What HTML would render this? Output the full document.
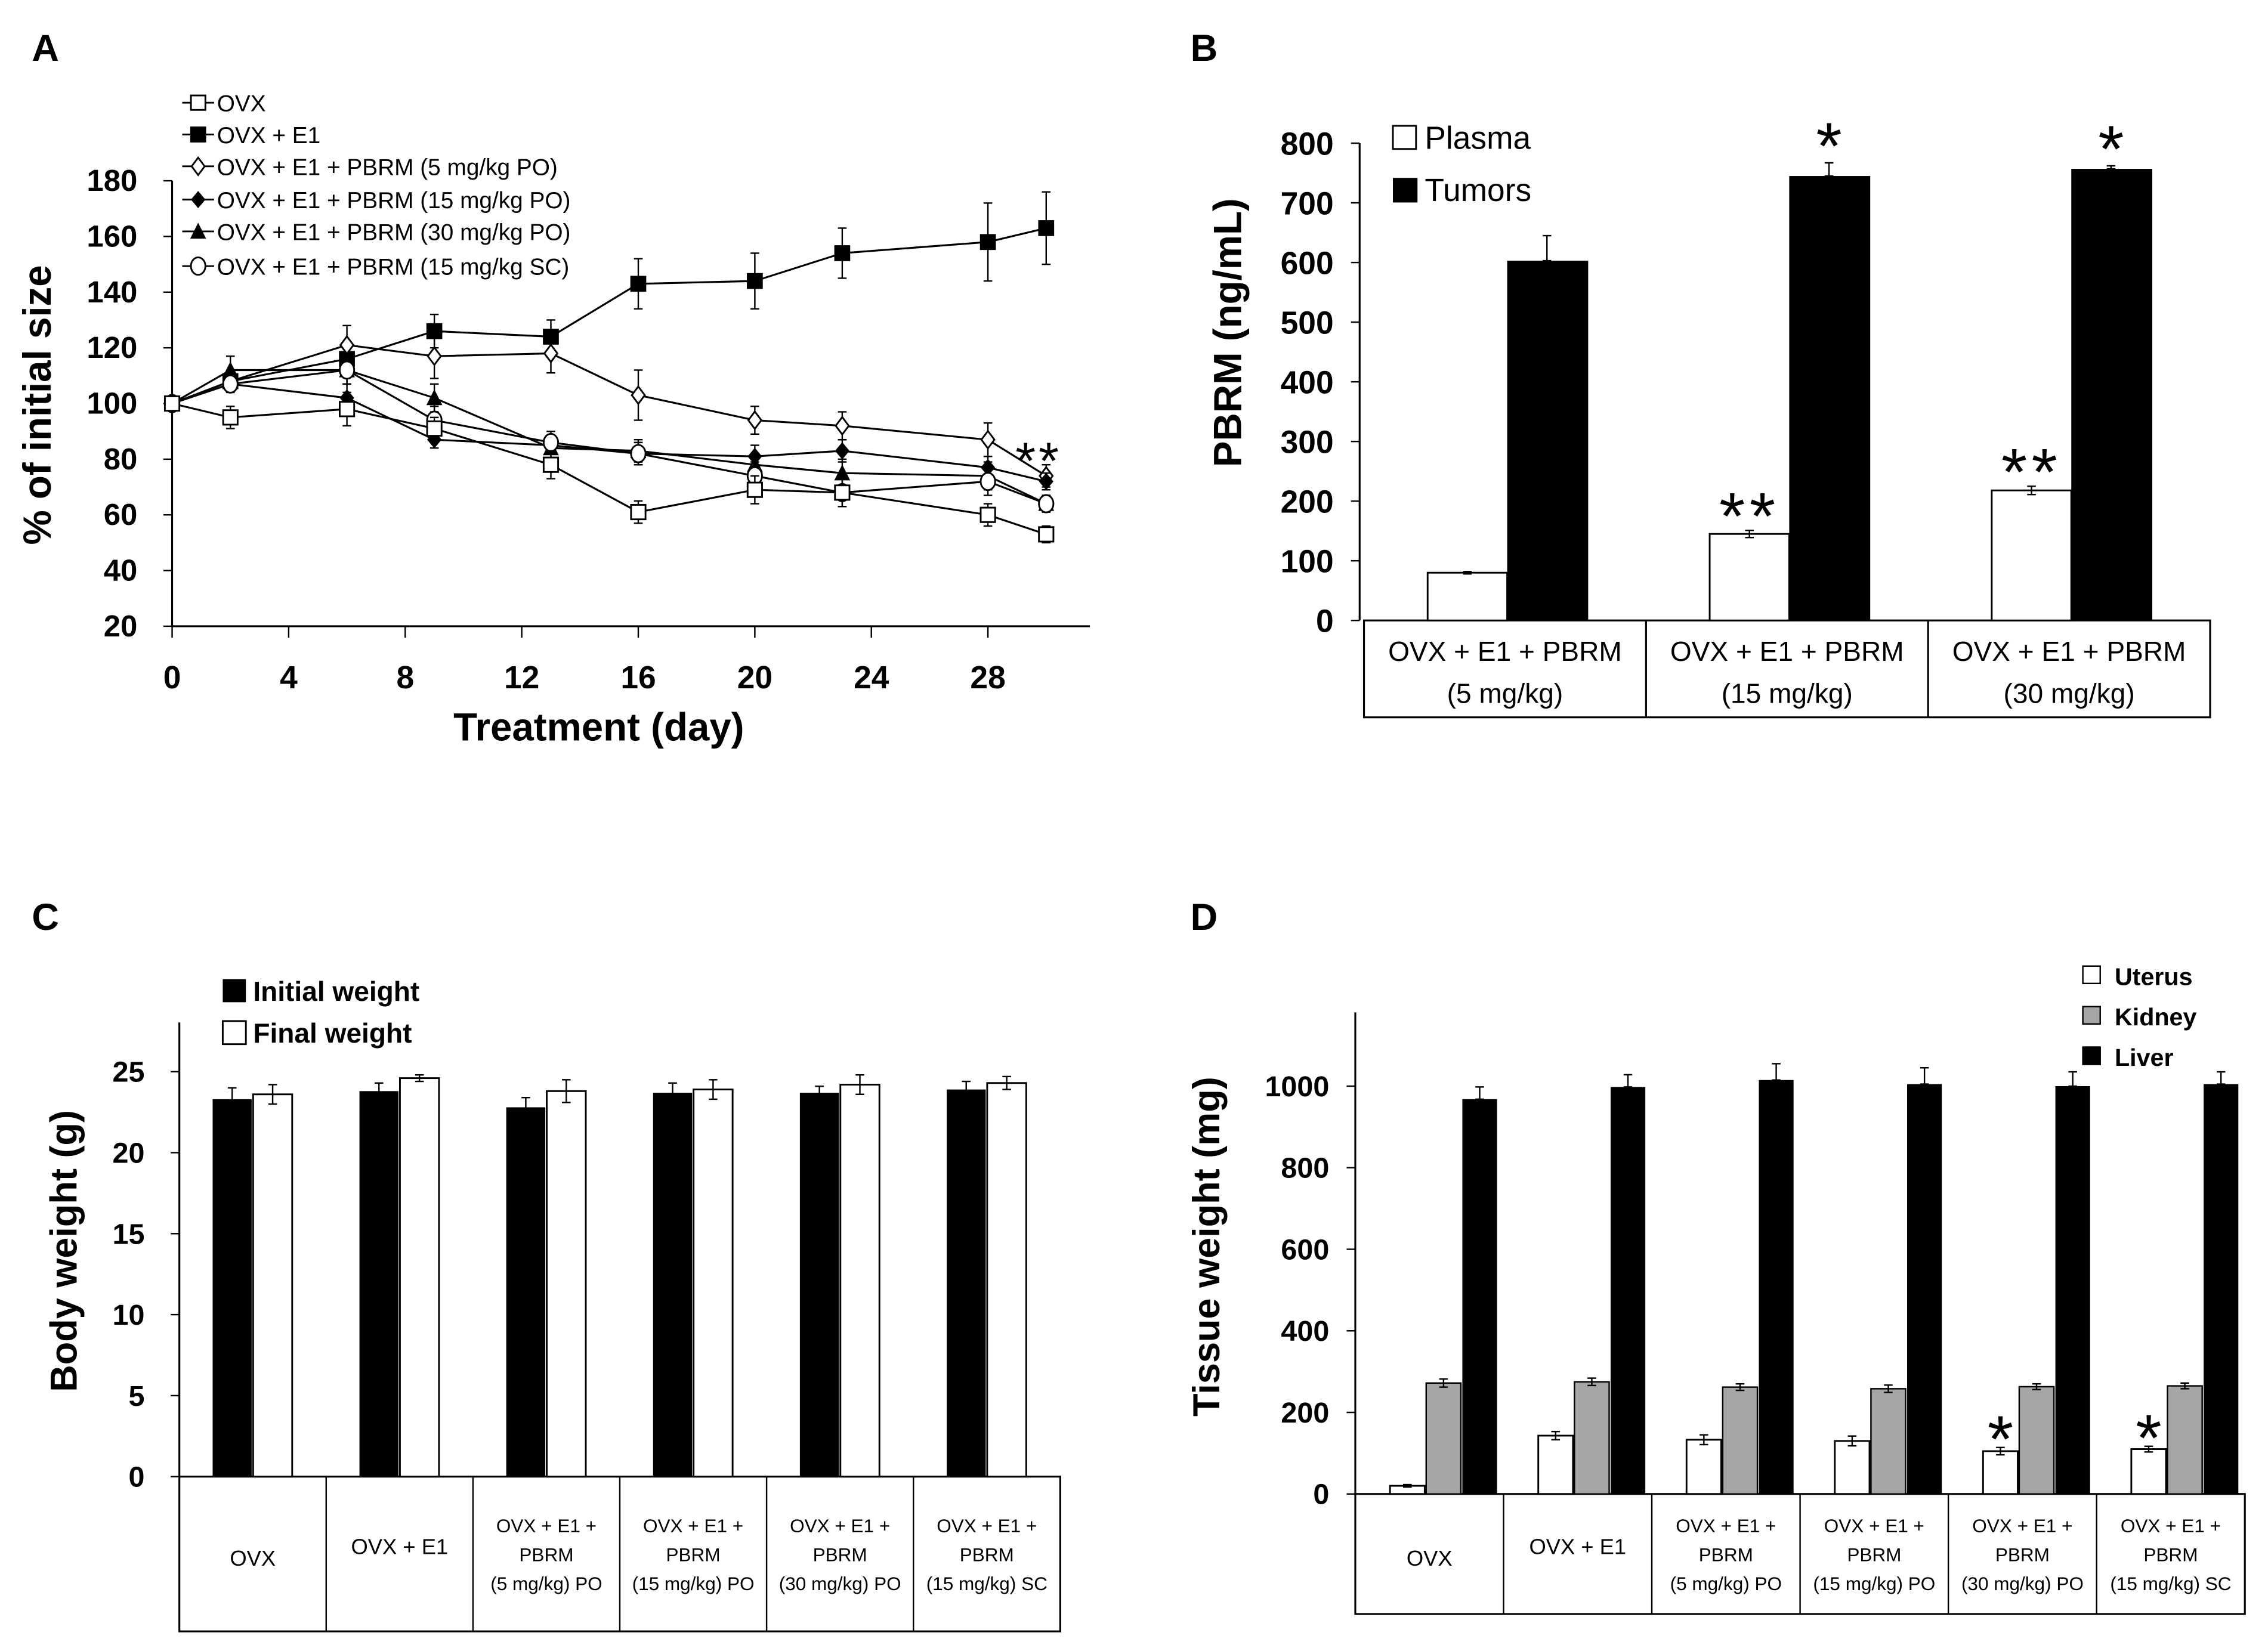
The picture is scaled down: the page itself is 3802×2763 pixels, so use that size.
<!DOCTYPE html>
<html><head><meta charset="utf-8"><style>
html,body{margin:0;padding:0;background:#fff}
svg{display:block}
text{font-family:"Liberation Sans",sans-serif}
</style></head><body>
<svg id="fig" width="3802" height="2763" viewBox="0 0 1568 1139.5" xmlns="http://www.w3.org/2000/svg">
<rect width="1568" height="1139.5" fill="#fff"/>
<g font-family="Liberation Serif,serif" font-weight="bold" font-size="26">
<text x="22" y="42">A</text>
<text x="823" y="42">B</text>
<text x="22" y="643">C</text>
<text x="823" y="643">D</text>
</g>
<g id="pa"></g>
<g id="pb"></g>
<g id="pc"></g>
<g id="pd"></g>
</svg>
<script>
// ---- Panel A data ----
const daysA = [0,2,6,9,13,16,20,23,28,30];
const xTicksA = [0,4,8,12,16,20,24,28];
const yTicksA = [20,40,60,80,100,120,140,160,180];
const seriesNamesA = ["OVX","OVX + E1","OVX + E1 + PBRM (5 mg/kg PO)","OVX + E1 + PBRM (15 mg/kg PO)","OVX + E1 + PBRM (30 mg/kg PO)","OVX + E1 + PBRM (15 mg/kg SC)"];
const markersA = ["sq-open","sq-fill","di-open","di-fill","tri","circ"];
const ovx = [100,95,98,91,78,61,69,68,60,53];
const ovxE1 = [100,108,116,126,124,143,144,154,158,163];
const p5 = [100,108,121,117,118,103,94,92,87,74];
const p15 = [100,107,102,87,85,82,81,83,77,72];
const p30 = [100,112,112,102,84,83,78,75,74,64];
const p15sc = [100,107,112,94,86,82,74,68,72,64];
const errOvx = [1,4,6,4,5,4,5,5,4,3];
const errE1 = [1,4,6,6,6,9,10,9,14,13];
const errP5 = [1,4,7,8,7,9,5,5,6,4];
const errP15 = [1,3,5,3,3,4,4,4,4,3];
const errP30 = [1,5,5,5,4,4,4,5,5,3];
const errSc = [1,3,5,5,4,4,5,5,5,3];
// ---- Panel B data ----
const groupsB = [["OVX + E1 + PBRM","(5 mg/kg)"],["OVX + E1 + PBRM","(15 mg/kg)"],["OVX + E1 + PBRM","(30 mg/kg)"]];
const plasmaB = [80,145,218];
const plasmaErrB = [2,6,7];
const tumorB = [603,745,757];
const tumorErrB = [42,22,5];
const starsPlasmaB = ["","**","**"];
const starsTumorB = ["","*","*"];
const yTicksB = [0,100,200,300,400,500,600,700,800];
// ---- Panel C data ----
const groupsC = [["OVX"],["OVX + E1"],["OVX + E1 +","PBRM","(5 mg/kg) PO"],["OVX + E1 +","PBRM","(15 mg/kg) PO"],["OVX + E1 +","PBRM","(30 mg/kg) PO"],["OVX + E1 +","PBRM","(15 mg/kg) SC"]];
const initialC = [23.3,23.8,22.8,23.7,23.7,23.9];
const initialErrC = [0.7,0.5,0.6,0.6,0.4,0.5];
const finalC = [23.6,24.6,23.8,23.9,24.2,24.3];
const finalErrC = [0.6,0.2,0.7,0.6,0.6,0.4];
const yTicksC = [0,5,10,15,20,25];
// ---- Panel D data ----
const uterusD = [20,143,133,130,105,110];
const uterusErrD = [3,10,12,12,9,7];
const kidneyD = [272,275,262,258,263,265];
const kidneyErrD = [10,9,8,9,7,7];
const liverD = [968,998,1015,1005,1000,1005];
const liverErrD = [30,30,40,40,35,30];
const starsUterusD = ["","","","","*","*"];
const yTicksD = [0,200,400,600,800,1000];

const NS="http://www.w3.org/2000/svg";
function mk(parent,tag,attrs,txt){const e=document.createElementNS(NS,tag);for(const k in attrs)e.setAttribute(k,attrs[k]);if(txt!==undefined)e.textContent=txt;parent.appendChild(e);return e;}
function line(p,x1,y1,x2,y2,w){return mk(p,'line',{x1,y1,x2,y2,stroke:'#000','stroke-width':w||1.3});}
function errbar(p,x,y1,y2,cap){const g=mk(p,'g',{});line(g,x,y1,x,y2,1);line(g,x-cap,y1,x+cap,y1,1);line(g,x-cap,y2,x+cap,y2,1);return g;}

// ===== Panel A =====
(function(){
const P=document.getElementById('pa');
const x0=119,x1=683,y0=433,y1=125;
const X=d=>x0+(d-0)*(x1-x0)/28;
const Y=v=>y0-(v-20)*(y0-y1)/160;
let e;
e=line(P,x0,Y(20),x0,Y(180),1.3);

e=line(P,x0,y0,X(31.5),y0,1.3);

yTicksA.forEach(v=>{const t=line(P,x0-6,Y(v),x0,Y(v),1);

const l=mk(P,'text',{x:x0-24,y:Y(v)+7,'text-anchor':'end','font-size':21,'font-weight':'bold'},v);
});
xTicksA.forEach(d=>{const t=line(P,X(d),y0,X(d),y0+8,1);

const l=mk(P,'text',{x:X(d),y:y0+43,'text-anchor':'middle','font-size':22,'font-weight':'bold'},d);
});
e=mk(P,'text',{x:414,y:512,'text-anchor':'middle','font-size':27,'font-weight':'bold'},'Treatment (day)');

e=mk(P,'text',{x:0,y:0,transform:'translate(35,280) rotate(-90)','text-anchor':'middle','font-size':27,'font-weight':'bold'},'% of initial size');

function marker(g,type,cx,cy){
 if(type==='sq-open')return mk(g,'rect',{x:cx-5,y:cy-5,width:10,height:10,fill:'#fff',stroke:'#000','stroke-width':1.2});
 if(type==='sq-fill')return mk(g,'rect',{x:cx-5.5,y:cy-5.5,width:11,height:11,fill:'#000'});
 if(type==='di-open')return mk(g,'polygon',{points:`${cx},${cy-6} ${cx+4.5},${cy} ${cx},${cy+6} ${cx-4.5},${cy}`,fill:'#fff',stroke:'#000','stroke-width':1.2});
 if(type==='di-fill')return mk(g,'polygon',{points:`${cx},${cy-6} ${cx+5},${cy} ${cx},${cy+6} ${cx-5},${cy}`,fill:'#000'});
 if(type==='tri')return mk(g,'polygon',{points:`${cx},${cy-6} ${cx+5.5},${cy+5} ${cx-5.5},${cy+5}`,fill:'#000'});
 return mk(g,'ellipse',{cx,cy,rx:5,ry:6,fill:'#fff',stroke:'#000','stroke-width':1.2});
}
const allS=[ovx,ovxE1,p5,p15,p30,p15sc], allE=[errOvx,errE1,errP5,errP15,errP30,errSc];
const order=[1,2,3,4,5,0];
order.forEach(i=>{
 const g=mk(P,'g',{});
 
 const s=allS[i],er=allE[i];
 s.forEach((v,j)=>{const eb=errbar(g,X(daysA[j]),Y(v+er[j]),Y(v-er[j]),3);
  });
 const pl=mk(g,'polyline',{points:s.map((v,j)=>X(daysA[j])+','+Y(v)).join(' '),fill:'none',stroke:'#000','stroke-width':1.3});
 
 s.forEach((v,j)=>{const m=marker(g,markersA[i],X(daysA[j]),Y(v));
  });
});
e=mk(P,'text',{x:702,y:331,'font-size':36,'letter-spacing':2},'**');

const ly=[71,93,115,138,160,184];
seriesNamesA.forEach((n,i)=>{
 const g=mk(P,'g',{});
 
 line(g,126,ly[i],148,ly[i],1.2);marker(g,markersA[i],137,ly[i]);
 mk(g,'text',{x:150,y:ly[i]+6,'font-size':16},n);
});
})();

// ===== Panel B =====
(function(){
const P=document.getElementById('pb');
const x0=940,y0=429,y1=99;
const Y=v=>y0-v*(y0-y1)/800;
let e;
e=line(P,x0,y0,x0,Y(800),1.3);

yTicksB.forEach(v=>{const t=line(P,x0-6,Y(v),x0,Y(v),1);
 
 const l=mk(P,'text',{x:x0-18,y:Y(v)+8,'text-anchor':'end','font-size':22,'font-weight':'bold'},v);
 });
e=mk(P,'text',{x:0,y:0,transform:'translate(858,230) rotate(-90)','text-anchor':'middle','font-size':27,'font-weight':'bold'},'PBRM  (ng/mL)');

const tl=943,tr=1528,tb=496,cw=(tr-tl)/3;
e=mk(P,'rect',{x:tl,y:y0,width:tr-tl,height:tb-y0,fill:'none',stroke:'#000','stroke-width':1.3});

groupsB.forEach((gl,i)=>{
 const cx=tl+cw*i;
 if(i>0){const d=line(P,cx,y0,cx,tb,1.3);}
 gl.forEach((s,k)=>{const t=mk(P,'text',{x:cx+cw/2,y:457+k*29,'text-anchor':'middle','font-size':19},s);
  });
 const bx=cx+44,bw=55;
 let b=mk(P,'rect',{x:bx,y:Y(plasmaB[i]),width:bw,height:y0-Y(plasmaB[i]),fill:'#fff',stroke:'#000','stroke-width':1.2});
 
 let eb=errbar(P,bx+bw/2,Y(plasmaB[i]+plasmaErrB[i]),Y(plasmaB[i]-plasmaErrB[i]),3);
 
 b=mk(P,'rect',{x:bx+bw,y:Y(tumorB[i]),width:bw+1,height:y0-Y(tumorB[i]),fill:'#000'});
 
 eb=errbar(P,bx+bw*1.5,Y(tumorB[i]+tumorErrB[i]),Y(tumorB[i]),3);
 
 if(starsPlasmaB[i]){const s=mk(P,'text',{x:bx+bw/2,y:Y(plasmaB[i]+plasmaErrB[i])+6,'text-anchor':'middle','font-size':46,'letter-spacing':3},starsPlasmaB[i]);
  }
 if(starsTumorB[i]){const s=mk(P,'text',{x:bx+bw*1.5,y:Y(tumorB[i]+tumorErrB[i])+4,'text-anchor':'middle','font-size':46},starsTumorB[i]);
  }
});
let g=mk(P,'g',{});
mk(g,'rect',{x:963,y:87,width:16,height:16,fill:'#fff',stroke:'#000','stroke-width':1.2});
mk(g,'text',{x:985,y:103,'font-size':22},'Plasma');
g=mk(P,'g',{});
mk(g,'rect',{x:963,y:123,width:17,height:17,fill:'#000'});
mk(g,'text',{x:985,y:139,'font-size':22},'Tumors');
})();

// grouped bar helper for C and D
function sixGroups(P,pre,tl,tr,y0,tb,groups,fs){
 const cw=(tr-tl)/6;
 const e=mk(P,'rect',{x:tl,y:y0,width:tr-tl,height:tb-y0,fill:'none',stroke:'#000','stroke-width':1.3});
 
 groups.forEach((gl,i)=>{
  const cx=tl+cw*i;
  if(i>0){const d=line(P,cx,y0,cx,tb,1);}
  const mid=(y0+tb)/2, start=mid-(gl.length-1)*10+5;
  gl.forEach((s,k)=>{const t=mk(P,'text',{x:cx+cw/2,y:(gl.length===1?mid+(s==='OVX'?8:0):start+k*20),'text-anchor':'middle','font-size':gl.length===1?15:13},s);
   });
 });
 return cw;
}

// ===== Panel C =====
(function(){
const P=document.getElementById('pc');
const x0=124,y0=1021,top=707;
const Y=v=>y0-v*(y0-741)/25;
let e;
e=line(P,x0,y0,x0,top,1.3);

yTicksC.forEach(v=>{const t=line(P,x0-6,Y(v),x0,Y(v),1);
 
 const l=mk(P,'text',{x:x0-24,y:Y(v)+7,'text-anchor':'end','font-size':20,'font-weight':'bold'},v);
 });
e=mk(P,'text',{x:0,y:0,transform:'translate(53,865) rotate(-90)','text-anchor':'middle','font-size':26,'font-weight':'bold'},'Body weight (g)');

const cw=sixGroups(P,'c',124,733,y0,1128,groupsC);
initialC.forEach((v,i)=>{
 const bx=124+cw*i+23,bw=27;
 let b=mk(P,'rect',{x:bx,y:Y(v),width:bw,height:y0-Y(v),fill:'#000'});
 
 let eb=errbar(P,bx+bw/2,Y(v+initialErrC[i]),Y(v-initialErrC[i]),3);
 
 const f=finalC[i];
 b=mk(P,'rect',{x:bx+bw+1,y:Y(f),width:bw,height:y0-Y(f),fill:'#fff',stroke:'#000','stroke-width':1.2});
 
 eb=errbar(P,bx+bw*1.5+1,Y(f+finalErrC[i]),Y(f-finalErrC[i]),3);
 
});
let g=mk(P,'g',{});
mk(g,'rect',{x:154,y:677,width:16,height:16,fill:'#000'});
mk(g,'text',{x:175,y:692,'font-size':19,'font-weight':'bold'},'Initial weight');
g=mk(P,'g',{});
mk(g,'rect',{x:154,y:706,width:16,height:16,fill:'#fff',stroke:'#000','stroke-width':1.2});
mk(g,'text',{x:175,y:721,'font-size':19,'font-weight':'bold'},'Final weight');
})();

// ===== Panel D =====
(function(){
const P=document.getElementById('pd');
const x0=937,y0=1033,top=700;
const Y=v=>y0-v*(y0-751)/1000;
let e;
e=line(P,x0,y0,x0,top,1.3);

yTicksD.forEach(v=>{const t=line(P,x0-6,Y(v),x0,Y(v),1);
 
 const l=mk(P,'text',{x:x0-18,y:Y(v)+7,'text-anchor':'end','font-size':20,'font-weight':'bold'},v);
 });
e=mk(P,'text',{x:0,y:0,transform:'translate(843,862) rotate(-90)','text-anchor':'middle','font-size':26,'font-weight':'bold'},'Tissue weight (mg)');

const cw=sixGroups(P,'d',937,1552,y0,1116,groupsC);
uterusD.forEach((v,i)=>{
 const bx=937+cw*i+24,bw=24;
 let b=mk(P,'rect',{x:bx,y:Y(v),width:bw,height:y0-Y(v),fill:'#fff',stroke:'#000','stroke-width':1.2});
 
 let eb=errbar(P,bx+bw/2,Y(v+uterusErrD[i]),Y(v-uterusErrD[i]),3);
 
 const k=kidneyD[i];
 b=mk(P,'rect',{x:bx+bw+1,y:Y(k),width:bw,height:y0-Y(k),fill:'#a6a6a6',stroke:'#000','stroke-width':1});
 
 eb=errbar(P,bx+bw*1.5+1,Y(k+kidneyErrD[i]),Y(k-kidneyErrD[i]),3);
 
 const l=liverD[i];
 b=mk(P,'rect',{x:bx+bw*2+2,y:Y(l),width:bw,height:y0-Y(l),fill:'#000'});
 
 eb=errbar(P,bx+bw*2.5+2,Y(l+liverErrD[i]),Y(l),3);
 
 if(starsUterusD[i]){const s=mk(P,'text',{x:bx+bw/2,y:Y(v+uterusErrD[i])+10,'text-anchor':'middle','font-size':46},starsUterusD[i]);
  }
});
const leg=[['Uterus','#fff',681],['Kidney','#a6a6a6',709],['Liver','#000',737]];
leg.forEach(L=>{const g=mk(P,'g',{});
 
 mk(g,'rect',{x:1440,y:L[2]-13,width:12,height:12,fill:L[1],stroke:'#000','stroke-width':1});
 mk(g,'text',{x:1462,y:L[2],'font-size':17,'font-weight':'bold'},L[0]);});
})();
</script>
</body></html>
